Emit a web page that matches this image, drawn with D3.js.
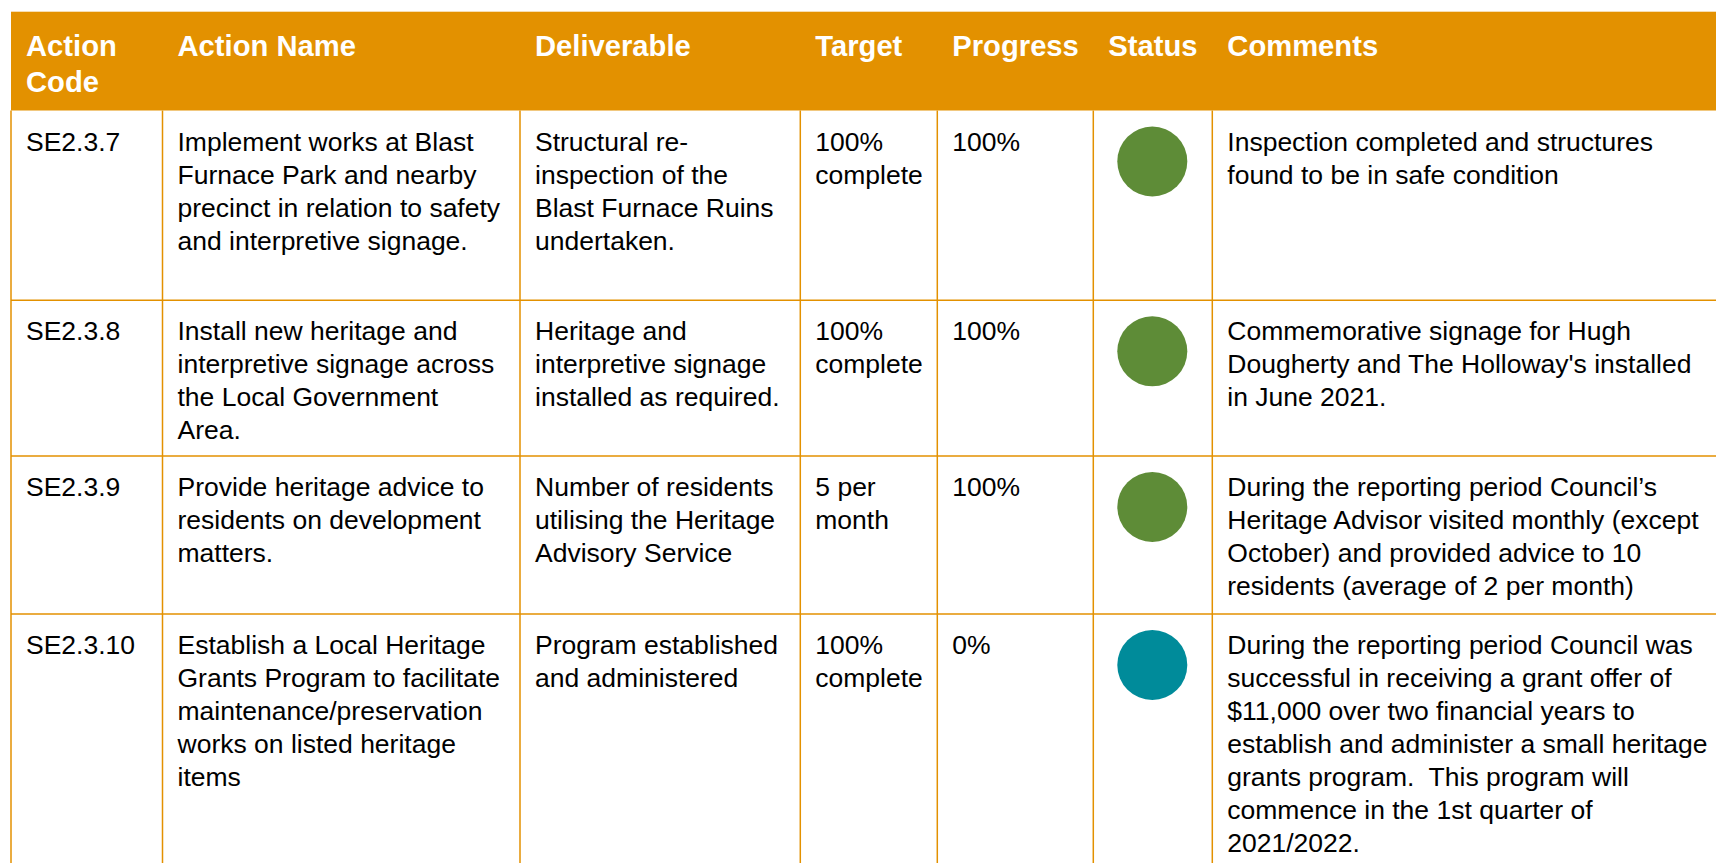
<!DOCTYPE html>
<html>
<head>
<meta charset="utf-8">
<script src="https://cdn.jsdelivr.net/npm/d3@7/dist/d3.min.js"></script>
<style>
  html, body { margin: 0; padding: 0; background: #ffffff; }
  svg { display: block; }
  text { font-family: Arial, "Liberation Sans", sans-serif; white-space: pre; }
</style>
</head>
<body>
<svg id="chart" width="1716" height="863"></svg>
<script>
// ---------- data ----------
const headers = [["Action", "Code"], ["Action Name"], ["Deliverable"], ["Target"], ["Progress"], ["Status"], ["Comments"]];

const codes = ["SE2.3.7", "SE2.3.8", "SE2.3.9", "SE2.3.10"];

const actionNames = [
  ["Implement works at Blast", "Furnace Park and nearby", "precinct in relation to safety", "and interpretive signage."],
  ["Install new heritage and", "interpretive signage across", "the Local Government", "Area."],
  ["Provide heritage advice to", "residents on development", "matters."],
  ["Establish a Local Heritage", "Grants Program to facilitate", "maintenance/preservation", "works on listed heritage", "items"]
];

const deliverables = [
  ["Structural re-", "inspection of the", "Blast Furnace Ruins", "undertaken."],
  ["Heritage and", "interpretive signage", "installed as required."],
  ["Number of residents", "utilising the Heritage", "Advisory Service"],
  ["Program established", "and administered"]
];

const targets = [
  ["100%", "complete"],
  ["100%", "complete"],
  ["5 per", "month"],
  ["100%", "complete"]
];

const progress = ["100%", "100%", "100%", "0%"];

const statuses = ["complete", "complete", "complete", "not started"];

const comments = [
  ["Inspection completed and structures", "found to be in safe condition"],
  ["Commemorative signage for Hugh", "Dougherty and The Holloway's installed", "in June 2021."],
  ["During the reporting period Council\u2019s", "Heritage Advisor visited monthly (except", "October) and provided advice to 10", "residents (average of 2 per month)"],
  ["During the reporting period Council was", "successful in receiving a grant offer of", "$11,000 over two financial years to", "establish and administer a small heritage", "grants program.  This program will", "commence in the 1st quarter of", "2021/2022."]
];

// ---------- layout ----------
const W = 1716, H = 863;
const colEdges = [11, 162.5, 520, 800.3, 937.3, 1093.3, 1212.3, W];
const headerTop = 11.7, headerBottom = 110.5;
const rowEdges = [110.5, 300.3, 456, 614, H + 10];
const padX = 15;
const bodyFont = 26.5, bodyLine = 33, bodyBase = 40;
const headFont = 29.2, headLine = 36, headBase = 44;
const orange = "#E39100";

const svg = d3.select("#chart");

const x = d3.scaleOrdinal().domain(d3.range(colEdges.length)).range(colEdges);
const color = d3.scaleOrdinal().domain(["complete", "not started"]).range(["#5E8C37", "#008B9A"]);

// header band
svg.append("rect")
  .attr("x", colEdges[0]).attr("y", headerTop)
  .attr("width", W - colEdges[0]).attr("height", headerBottom - headerTop)
  .attr("fill", orange);

// header text
const hg = svg.append("g");
headers.forEach((lines, ci) => {
  const t = hg.append("text")
    .attr("font-size", headFont).attr("font-weight", "bold").attr("fill", "#ffffff");
  lines.forEach((ln, li) => {
    t.append("tspan").attr("x", x(ci) + padX).attr("y", headerTop + headBase + li * headLine).text(ln);
  });
});

// grid lines
const grid = svg.append("g").attr("stroke", orange).attr("stroke-width", 1.5);
rowEdges.slice(1, -1).forEach(y => {
  grid.append("line").attr("x1", colEdges[0]).attr("x2", W).attr("y1", y).attr("y2", y);
});
colEdges.slice(0, -1).forEach(cx => {
  grid.append("line").attr("x1", cx).attr("x2", cx).attr("y1", headerBottom).attr("y2", H);
});

// body cells
const rows = codes.map((c, i) => ({
  cells: [[c], actionNames[i], deliverables[i], targets[i], [progress[i]], null, comments[i]],
  status: statuses[i],
  top: rowEdges[i]
}));

const body = svg.append("g");
rows.forEach(r => {
  r.cells.forEach((lines, ci) => {
    if (!lines) return;
    const t = body.append("text").attr("font-size", bodyFont).attr("fill", "#000000");
    lines.forEach((ln, li) => {
      t.append("tspan").attr("x", x(ci) + padX).attr("y", r.top + bodyBase + li * bodyLine).text(ln);
    });
  });
  body.append("circle")
    .attr("cx", (x(5) + x(6)) / 2 - 0.5)
    .attr("cy", r.top + 51)
    .attr("r", 35)
    .attr("fill", color(r.status));
});
</script>
</body>
</html>
